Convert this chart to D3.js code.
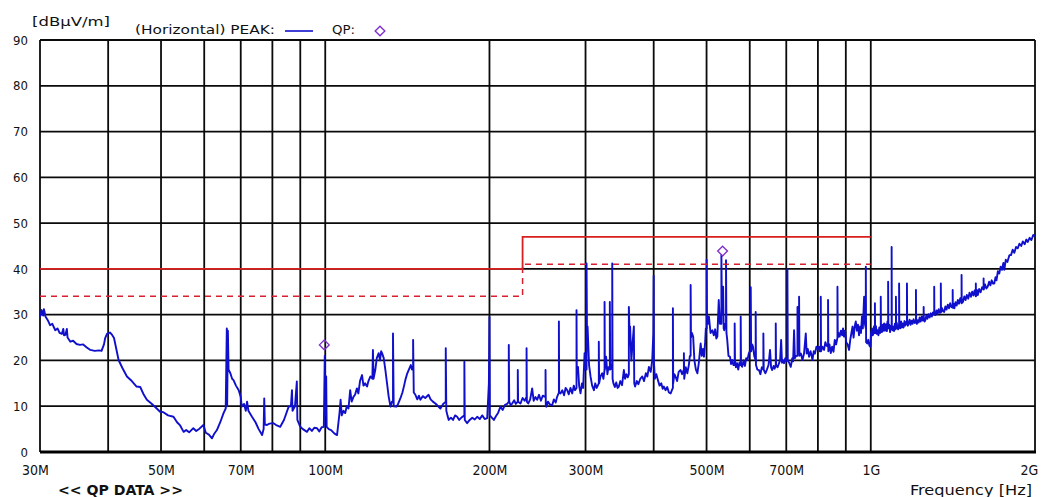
<!DOCTYPE html>
<html>
<head>
<meta charset="utf-8">
<script src="https://cdn.jsdelivr.net/npm/d3@7"></script>
<style>
  html, body { margin: 0; padding: 0; background: #ffffff; }
  svg { display: block; }
  text { fill: #111; }
</style>
</head>
<body>
<svg id="chart" width="1046" height="497"></svg>
<script>
// ---------------- DATA ----------------
const yTicks = [0, 10, 20, 30, 40, 50, 60, 70, 80, 90];
const xTickFreqMHz = [30, 50, 70, 100, 200, 300, 500, 700, 1000, 2000];
const xTickLabels = ["30M", "50M", "70M", "100M", "200M", "300M", "500M", "700M", "1G", "2G"];
const gridFreqMHz = [40, 50, 60, 70, 80, 90, 100, 200, 300, 400, 500, 600, 700, 800, 900, 1000];

// limit line (solid) and margin line (dashed)
const limitFreqMHz = [30, 230, 230, 1000];
const limitLevel = [40, 40, 47, 47];
const marginLevel = [34, 34, 41, 41];

// QP results
const qpFreqMHz = [99.6, 535];
const qpLevel = [23.4, 43.9];

// PEAK trace: [frequency MHz, level dBuV/m]
const peakTrace = [
 [30,29.5],[30.2,31],[30.4,29.8],[30.5,31.2],[30.7,29.6],[31,28.8],[31.3,27.7],[31.6,28],[32,26.6],[32.3,27],[32.6,26],[32.9,25.8],[33.1,26.9],[33.2,25.5],[33.4,25.6],[33.6,26.9],[33.7,25],[34.1,24.1],[34.5,24.3],[35,23.6],[35.5,23.4],[36,23.5],[36.5,22.9],[37.1,22.3],[37.8,22.1],[38.5,22.2],[38.9,22.1],[39.3,23.5],[39.5,24.9],[39.8,25.8],[40.3,26.1],[40.6,25.7],[41,24.9],[41.4,22.5],[41.8,20.1],[42.5,18.3],[43.3,16.5],[44.2,15.5],[45.1,14.3],[45.8,14.2],[46.5,12.5],[47.1,11.4],[48,10.6],[49,9.6],[49.8,8.8],[50.5,8.7],[51.5,8],[52.7,7.7],[53.5,6.5],[54.2,5.8],[55,4.4],[55.6,4.8],[56.3,4.3],[57.3,5.2],[58,4.6],[58.8,5.1],[59.8,5.9],[60.4,4.2],[61.2,3.8],[62,3.0],[62.6,4.0],[63.3,4.8],[64.2,6.5],[65.1,8.5],[65.7,9.5],[66,27],[66.1,10],[66.3,26.5],[66.5,18],[67,17.2],[67.5,16],[67.9,15.7],[68.6,14.5],[69.4,13.5],[70,12],[70.3,9.9],[71,10.5],[71.5,9],[71.9,11],[72.3,9],[73.4,7.7],[74.5,6.5],[75.5,5],[76.6,3.7],[77.1,5],[77.3,11.7],[77.5,6],[78.2,5.9],[79,6.2],[80.4,6.3],[81.5,5.8],[82.7,5.5],[84,7],[85.7,9.9],[86.5,10],[86.9,13.5],[87.1,9],[88,10],[88.7,15.4],[88.9,7],[90,5.5],[91,5],[92.6,4.4],[93.5,5.2],[94.5,4.6],[95.5,5.3],[96.6,5.2],[97.5,4.5],[98.5,5.4],[99.4,5.5],[99.8,21],[100,8],[100.4,16.5],[100.6,5.5],[101.5,5],[102.5,4.8],[104,4],[105.1,3.7],
 [106.2,8.5],[106.7,11.4],[107.2,8],[108,9],[108.8,8.5],[109.5,10],[110.3,9.5],[111.1,13.5],[111.8,11],[112.7,12.1],[113.4,12.5],[114.3,13.9],[115,12.8],[115.8,15.5],[116.8,16.8],[117.5,14.5],[118.3,15],[119.3,14.3],[120,15.5],[121,16.5],[122,16],[122.3,22.3],[122.6,16],[123.5,17.9],[124.3,20.5],[125.3,21.6],[126,20],[126.6,22],[127.1,21.6],[128,20.5],[128.9,17.9],[129.8,15],[130.7,12.1],[131.7,9.9],[132.5,11],[133.1,11],[133.1,25.9],[133.5,10],[135,9.9],[136,10.5],[137.3,11.7],[138.5,13],[139.5,14.5],[140.2,15.7],[141.2,17],[142.2,17.9],[143.5,19],[144.2,18],[144.9,18],[144.9,24.5],[145.3,13],[146.3,12.5],[147.5,11.5],[148.5,12.3],[149.4,11.4],[151,12.2],[152.5,11.8],[154.7,12.5],[156,11.5],[157.5,11],[159.2,10.6],[161,10],[162.6,9.5],[164.5,10.5],[166.3,11],[166.3,22.7],[166.7,9],[167.5,8],[168.4,7],[170,7.5],[171.5,7],[173,8],[174.5,7.7],[176,7],[178,7.6],[179.9,8],[179.9,19.7],[180.2,7],[182,6.3],[184,7],[186,7.5],[188,7.1],[189.9,7.7],[192,7.2],[194,8],[196,7.2],[198.1,7.4],[199.5,15],[200,29.5],[200.3,8],[203.7,7],
 [205.5,7.8],[207.5,8.6],[209.5,9.9],[211.5,9.2],[213.5,10.3],[215.5,10.5],[217,11],[217,23.4],[217.4,11],[218.8,10.2],[220.1,10.6],[222,11.3],[223.5,10.5],[225.4,11],[225.4,17.9],[225.7,11],[228,10.6],[230,11.8],[232,11.2],[233.9,12],[233.9,22.7],[234.2,11],[235.6,10.6],[237.5,11.5],[239.5,13.9],[241,11.2],[242.8,12],[244.6,11.4],[246.5,12.5],[248.5,11.2],[250.5,12.3],[253.4,12],[253.4,17.9],[253.7,10],[254.3,9.9],[256,11],[258,10.4],[260.6,10.2],[262.5,11.5],[264.5,10.8],[266,12],[268.1,13],[268.1,28.5],[268.4,13],[269.9,12.8],[272,13.5],[274,12.4],[275.8,14],[277.7,13.5],[279.5,12.6],[281.5,14],[283.6,12.8],[285.5,14.5],[287,13.5],[288.8,14],[288.8,31],[289.1,18.6],[290.6,18.6],[292,14.5],[293.7,12.8],[295.5,15],[297,14],[298.8,21.6],[300,18],[301.3,18],[301.3,41.2],[301.8,27.4],[302.6,27.4],[304.5,19],[306.4,16.5],
 [308.5,14.5],[310.8,13.5],[312.5,15],[314.5,14],[317.3,15],[317.3,24.1],[317.7,15],[319.5,16.5],[321.9,17.2],[323.5,16],[325.1,18],[325.1,32.8],[325.5,18],[327.2,20.8],[329,17],[330.5,18.5],[332.4,18],[332.4,32.8],[333,18],[334.5,19],[335.8,18],[335.8,41.2],[336.3,16],[337.5,15],[339.5,14.2],[341.5,15.2],[343.5,14],[345.3,14.3],[347.5,15.5],[350,14.6],[352.7,17.9],[354.5,16],[356.5,17],[358.5,16.3],[360.2,17],[360.2,31.7],[361,27.4],[362.1,27.4],[364,20],[366,24],[367.9,27.4],[368.5,15],[369.8,14.3],[372.5,15.5],[375,14.8],[378,16],[381.2,16.5],[384,15.5],[387,17.2],[389.5,16.5],[392,18.6],[395,17.5],[397.5,20],[399.4,25.9],[400,38.5],[400.3,20],[402,16],[404.5,17],[407.2,15.7],[410,14.5],[413,15],[415.5,13.8],[417.6,14.3],[420.5,13.5],[423.5,14.2],[426.5,13],[429.7,12.8],[432,13.5],[433.8,14],[433.8,31.4],[434.3,15],[436.5,17],[438.6,16.5],[441.5,15.5],[444.5,17.5],[448.1,17.9],[451,17],[454.4,18],[454.4,21.6],[455,16],[458,18.5],[461,17.2],[464,19],[466,21],[467.5,21],[467.5,36.5],[468.2,25],[470,26],[472.5,25.2],[475,20],[478,18],[481,17.2],[484,19.5],[487.7,23.7],[490,21],[492.5,22.5],[494.6,20.8],[497,24],[498.5,27],[500.2,27],[500.2,42],[500.8,30],[503,28],[505,29.6],
 [508.5,26],[512.4,26.6],[515.5,25.5],[518.5,26.8],[521,24.8],[523.3,25.2],[526.4,33.2],[529,28],[532.3,28],[532.3,43],[533.5,30],[535,36.1],[536.2,36.1],[537.5,27],[538.8,26.6],[541,28],[542.8,28],[542.8,41.9],[543.8,26],[545.6,24.5],[548.5,21],[552,20.8],[554.5,19.2],[556.9,20.1],[560,19],[563,19],[563,28.1],[563.8,20],[566,18.5],[568.7,19.4],[571.5,18],[574.5,19.5],[577.5,19],[577.5,29.6],[578.3,19],[581.1,18.6],[584.5,20],[588,18.8],[591,20.5],[594.1,20.1],[597.5,21.5],[600,22],[602.5,22],[602.5,36],[603.5,22],[606,23.5],[608.3,23],[611.5,21],[615.2,20],[615.2,30.6],[616,19],[619.5,18],[623.9,17.9],[627.5,17],[631.5,18.5],[635.5,18],[635.5,25.9],[636.5,18],[639,17.5],[641.1,17.2],[645,18],[649.5,19],[653.6,22.3],[656.5,18.5],[659.6,17.9],[663.5,18.8],[666.5,18.2],[669.6,19],[669.6,28.1],[670.5,19],[674.5,18.5],[679,19.4],[682,20],[685,24.5],[687.5,19.5],[690.5,20],[693.3,19.4],[697,20.5],[700,19.8],[703.4,20],[703.4,40],[704.5,20],
 [708.5,19.5],[713.4,18.6],[718,20.5],[720.5,19.8],[723.4,26.6],[726,20.5],[729.5,21],[733.9,21],[733.9,31.7],[735.5,22],[738.9,22],[738.9,33.9],[740,21],[744.5,21.5],[749.5,20.1],[754.5,21.5],[760.1,25.9],[763,21.5],[766.5,22.5],[770.7,20.8],[775.5,22],[778.5,21.2],[781.9,20.1],[786,22],[790,21.5],[795,23],[799.5,22.5],[803.9,23],[806.5,22],[809.7,22],[809.7,33.9],[810.7,22],[815.5,23],[821.1,22.3],[825.5,24],[830,23.2],[835,23],[835,33.2],[836,22],[840,23.5],[844.7,21.6],[849.5,23],[854.5,21.9],[859,24.5],[864,23.5],[868.8,25],[868.8,36.1],[870,25],[873,26],[877,25.2],[881.5,26.5],[886,25.5],[889.5,27],[893.3,25.2],[897,26.5],[901.5,24],[907,23.5],[912.5,22.3],[917,24.5],[921.5,26],[925.8,27.4],[930,25],[934.5,27.5],[938.7,28.5],[943,26.5],[947.5,27.8],[951.5,25.5],[955.9,27.4],[959.5,26],[963.5,29.6],[967,27],[972.3,33.9],[975.5,28],[979.3,27],[979.3,40.5],[980.5,24],[985.2,23.7],[989.5,24.5],[994.5,23.2],[999,23],
 [1001,26],[1005,27],[1008.5,25.5],[1011.6,25.9],[1014,27.5],[1017.6,26],[1017.6,32.5],[1018.5,26],[1022,27.5],[1025.5,25.8],[1029,26.6],[1033,25.5],[1036.5,27.2],[1040,26],[1043,26.5],[1043,33.9],[1044,27],[1048,26.2],[1052,27.8],[1055,26.5],[1058,28.1],[1062,26.5],[1066.5,27.9],[1070.5,26.4],[1073,28.5],[1076,27],[1076,37.2],[1077,27],[1081,27.8],[1085,26.2],[1088.5,27.6],[1092,27],[1092,44.8],[1093,27],[1096,26.6],[1099,27.4],[1103,26.4],[1107,28],[1110,26.8],[1112,27],[1112,33.9],[1113,27],[1116,28.2],[1118,27.4],[1122.5,26.8],[1127,28],[1127,36.8],[1128,28],[1132,27],[1136.5,28.5],[1140,27.2],[1144,28.1],[1148.5,27.2],[1153,28.6],[1157,27.6],[1161,28.4],[1165,28],[1165,36.8],[1166,28],[1169.5,27.6],[1173,28.1],[1178,28.9],[1183,27.8],[1188,28.7],[1193,28],[1198,29],[1204,28.2],[1210,28.5],[1210,35.4],[1211,28.5],[1215,28],[1219,28.8],[1224,28.3],[1229,29.4],[1234.5,28.5],[1240,29.6],[1245,28.7],[1250,29],[1250,31.7],[1251,29],[1255,28.5],[1259,28.8],[1264.5,29.8],[1270,29.1],[1276,30.1],[1282,29.4],[1288,30.3],[1294,29.6],[1300.5,30.5],[1307,30],[1307,36.1],[1308,30],[1314,29.9],[1320,30.9],[1326,30.2],[1332,31.2],[1338,30.4],[1344,30.5],[1344,36.8],[1345,30.5],[1351,31.4],[1357,30.7],[1363,30.6],[1370,31.8],[1377,31.1],[1384,32.2],[1391,31.4],[1398,32.5],[1405,31.7],[1413,31.5],[1413,35.4],[1414,31.5],[1418,32.4],[1423,31.4],[1430,32.7],[1437,32],[1444,33.2],[1451,32.4],[1459,33.6],[1467,32.5],[1467,38.7],[1468,32.5],[1476,32.8],[1484,34],[1492,33.2],[1500,34.3],[1509,33.5],[1517,34.8],[1526,33.9],[1534,35],[1542,34.2],[1550,35.3],[1558,34],[1558,36.8],[1559,34],[1565,35.4],[1571,34.3],[1580,35.6],[1590,34.9],[1600,36],[1610,35.5],[1610,37.9],[1611,35.5],[1620,36.6],[1629,35.7],[1638,36.1],[1648,37.2],[1657,36.4],[1666,37.5],[1675,36.8],[1684,36.8],[1693,38.2],[1700,37.5],[1710,39.5],[1720,39],[1730,40.5],[1740,39.8],[1750,41.3],[1757,39.8],[1768,42],[1780,41.5],[1795,43],[1807,43],[1820,44.2],[1833,43.5],[1846,44.8],[1859,44.5],[1873,45.5],[1887,45],[1900,46],[1915,45.4],[1928,46.4],[1940,45.9],[1955,46.8],[1970,46.3],[1985,47.4],[2000,47.2]
];

// ---------------- DRAWING ----------------
const svg = d3.select("#chart");
const plotL = 40, plotR = 1035, plotT = 40, plotB = 452;

const x = d3.scaleLog().domain([30, 2000]).range([plotL, plotR]);
const y = d3.scaleLinear().domain([0, 90]).range([plotB, plotT]);

const axisFont = "'Liberation Sans Narrow','DejaVu Sans Condensed',sans-serif";
const gridColor = "#0a0a0a";

// horizontal grid
svg.append("g").selectAll("line").data(yTicks.filter(d => d > 0)).join("line")
  .attr("x1", plotL).attr("x2", plotR)
  .attr("y1", d => y(d)).attr("y2", d => y(d))
  .attr("stroke", gridColor).attr("stroke-width", 1.8);

// vertical grid
svg.append("g").selectAll("line").data(gridFreqMHz).join("line")
  .attr("x1", d => x(d)).attr("x2", d => x(d))
  .attr("y1", plotT).attr("y2", plotB)
  .attr("stroke", gridColor).attr("stroke-width", 1.8);

// frame
svg.append("line").attr("x1", plotL).attr("x2", plotL).attr("y1", plotT).attr("y2", plotB)
  .attr("stroke", gridColor).attr("stroke-width", 1.8);
svg.append("line").attr("x1", plotR).attr("x2", plotR).attr("y1", plotT).attr("y2", plotB)
  .attr("stroke", gridColor).attr("stroke-width", 1.8);

// y axis labels
const yAxis = d3.axisLeft(y).tickValues(yTicks).tickSize(0).tickPadding(12).tickFormat(d3.format("d"));
const gy = svg.append("g").attr("transform", `translate(${plotL},0)`).call(yAxis);
gy.select(".domain").remove();
gy.selectAll("text").attr("font-family", "'DejaVu Sans Condensed','DejaVu Sans',sans-serif")
  .attr("font-size", 13).attr("fill", "#111");

// x axis labels
const xAxis = d3.axisBottom(x).tickValues(xTickFreqMHz).tickSize(0).tickPadding(13)
  .tickFormat((d, i) => xTickLabels[i]);
const gx = svg.append("g").attr("transform", `translate(0,${plotB})`).call(xAxis);
gx.select(".domain").remove();
gx.selectAll("text").attr("font-family", axisFont).attr("font-size", 14).attr("fill", "#111");
gx.selectAll(".tick").filter(d => d === 30).select("text").attr("dx", -5);
gx.selectAll(".tick").filter(d => d === 2000).select("text").attr("dx", -6);

// bottom axis (thick) and top border
svg.append("line").attr("x1", plotL).attr("x2", plotR + 1).attr("y1", plotB).attr("y2", plotB)
  .attr("stroke", "#000").attr("stroke-width", 3);
svg.append("line").attr("x1", plotL).attr("x2", plotR).attr("y1", plotT).attr("y2", plotT)
  .attr("stroke", gridColor).attr("stroke-width", 1.8);

// PEAK trace
svg.append("path").datum(peakTrace)
  .attr("fill", "none").attr("stroke", "#1010cc").attr("stroke-width", 1.9)
  .attr("stroke-linejoin", "round")
  .attr("d", d3.line().x(d => x(d[0])).y(d => y(d[1])));

// limit lines
const lim = limitFreqMHz.map((f, i) => [f, limitLevel[i]]);
const mar = limitFreqMHz.map((f, i) => [f, marginLevel[i]]);
const lineGen = d3.line().x(d => x(d[0])).y(d => y(d[1]));
svg.append("path").datum(lim).attr("fill", "none").attr("stroke", "#d82020")
  .attr("stroke-width", 1.8).attr("d", lineGen);
svg.append("path").datum(mar).attr("fill", "none").attr("stroke", "#d82030")
  .attr("stroke-width", 1.5).attr("stroke-dasharray", "6,5").attr("d", lineGen);

// QP markers
const diamond = d3.symbol().type(d3.symbolDiamond2).size(60);
svg.append("g").selectAll("path").data(qpFreqMHz).join("path")
  .attr("transform", (d, i) => `translate(${x(d)},${y(qpLevel[i])})`)
  .attr("d", diamond).attr("fill", "none").attr("stroke", "#8030d0").attr("stroke-width", 1.4);

// header texts
svg.append("text").attr("x", 32).attr("y", 26).attr("font-family", axisFont)
  .attr("font-size", 13).attr("textLength", 78).attr("lengthAdjust", "spacingAndGlyphs")
  .text("[dBμV/m]");
svg.append("text").attr("x", 135).attr("y", 34).attr("font-family", axisFont)
  .attr("font-size", 13).attr("textLength", 140).attr("lengthAdjust", "spacingAndGlyphs")
  .text("(Horizontal) PEAK:");
svg.append("line").attr("x1", 285).attr("x2", 313).attr("y1", 31).attr("y2", 31)
  .attr("stroke", "#1010cc").attr("stroke-width", 1.6);
svg.append("text").attr("x", 332).attr("y", 34).attr("font-family", axisFont)
  .attr("font-size", 13).attr("textLength", 23).attr("lengthAdjust", "spacingAndGlyphs")
  .text("QP:");
svg.append("path").attr("transform", "translate(380,31)").attr("d", diamond)
  .attr("fill", "none").attr("stroke", "#8030d0").attr("stroke-width", 1.4);

// footer texts
svg.append("text").attr("x", 58).attr("y", 495).attr("font-family", axisFont)
  .attr("font-size", 14).attr("font-weight", "bold").attr("textLength", 125)
  .attr("lengthAdjust", "spacingAndGlyphs").text("<< QP DATA >>");
svg.append("text").attr("x", 910).attr("y", 495).attr("font-family", axisFont)
  .attr("font-size", 14).attr("textLength", 122).attr("lengthAdjust", "spacingAndGlyphs")
  .text("Frequency [Hz]");
</script>
</body>
</html>
